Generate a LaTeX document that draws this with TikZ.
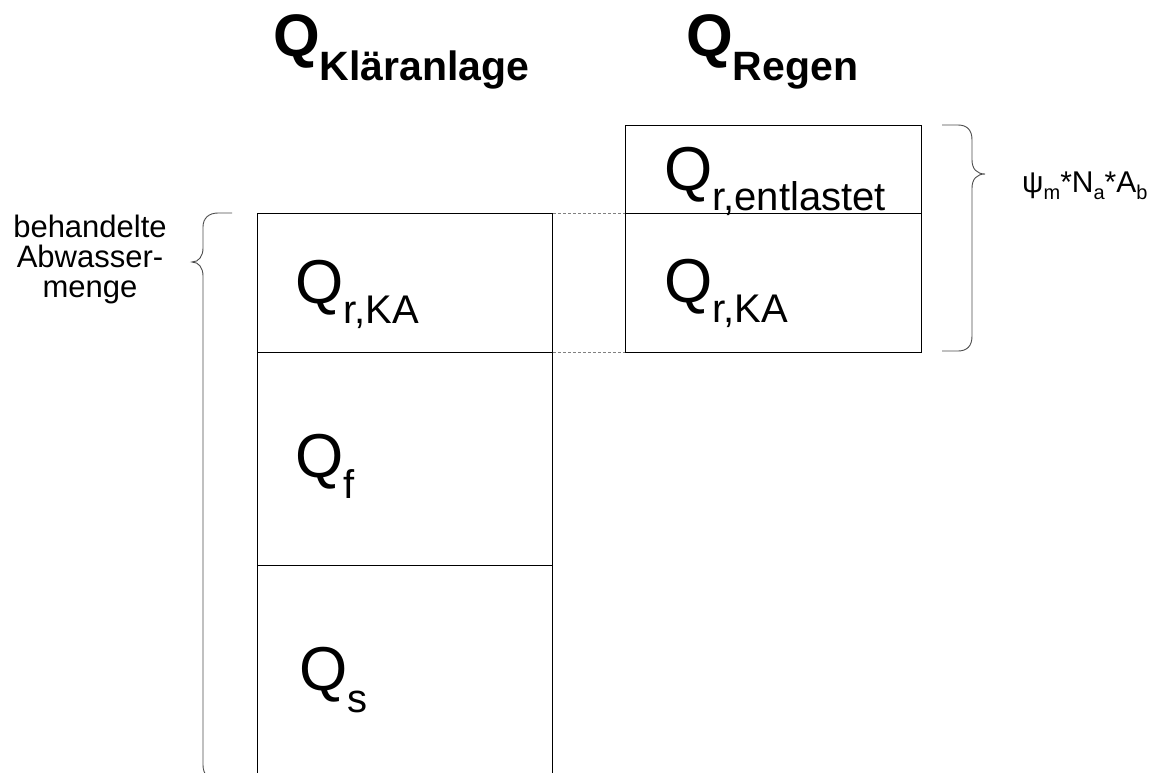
\documentclass[tikz,border=0pt]{standalone}
\usepackage{fontspec}
\setmainfont{Liberation Sans}
\newcommand{\qsub}[2]{{\fontsize{62}{62}\selectfont Q}\raisebox{-#2pt}{\fontsize{40}{40}\selectfont #1}}
\newcommand{\qhead}[1]{{\fontsize{60}{60}\selectfont\bfseries Q}\raisebox{-24pt}{\fontsize{41}{41}\selectfont\bfseries #1}}
\newcommand{\psub}[1]{\raisebox{-7pt}{\fontsize{20}{20}\selectfont #1}}
\begin{document}
\begin{tikzpicture}[x=1pt,y=-1pt,
  box/.style={draw=black,line width=0.9pt,inner sep=0pt,anchor=north west},
  lbl/.style={anchor=base west,inner sep=0pt},
  dotline/.style={draw=gray,line width=1pt,dash pattern=on 3pt off 2pt},
  bracepath/.style={draw=black!70,line width=0.9pt}]
\useasboundingbox (0,0) rectangle (1158,772);
% left column
\node[box,minimum width=295pt,minimum height=139pt] (kA) at (257,213) {};
\node[box,minimum width=295pt,minimum height=213pt] (kf) at (257,352) {};
\node[box,minimum width=295pt,minimum height=260pt] (ks) at (257,565) {};
% right column
\node[box,minimum width=296pt,minimum height=88pt] (re) at (625,125) {};
\node[box,minimum width=296pt,minimum height=139pt] (rA) at (625,213) {};
% dotted connectors
\draw[dotline] (kA.north east) -- (rA.north west);
\draw[dotline] (kA.south east) -- (rA.south west);
% headings
\node[lbl] (h1) at (273,56) {\qhead{Kläranlage}};
\node[lbl] (h2) at (686,56) {\qhead{Regen}};
% box labels
\node[lbl] (t1) at (295,303) {\qsub{r,KA}{20}};
\node[lbl] (t2) at (295,477) {\qsub{f}{21}};
\node[lbl] (t3) at (299,690) {\qsub{s}{22}};
\node[lbl] (t4) at (664,190) {\qsub{r,entlastet}{20}};
\node[lbl] (t5) at (664,302) {\qsub{r,KA}{20}};
% right brace
\draw[bracepath] (942,125) -- (958,125) .. controls (967,125) and (972,130) .. (972,140)
  -- (972,160) .. controls (972,169) and (977,174) .. (985,174)
  .. controls (977,174) and (972,179) .. (972,188)
  -- (972,336) .. controls (972,346) and (967,351) .. (958,351) -- (942,351);
\node[lbl] (psi) at (1022,192) {\fontsize{30}{30}\selectfont ψ\psub{m}*N\psub{a}*A\psub{b}};
% left brace
\draw[bracepath] (232,213) -- (218,213) .. controls (209,213) and (203,218) .. (203,227)
  -- (203,248) .. controls (203,256) and (199,262) .. (192,262)
  .. controls (199,262) and (203,268) .. (203,276)
  -- (203,765) .. controls (203,775) and (209,780) .. (218,780) -- (232,780);
\node[align=center,anchor=north,inner sep=0pt,font=\fontsize{31}{30}\selectfont] (beh) at (90,214.5) {behandelte\\Abwasser-\\menge};
\end{tikzpicture}
\end{document}
